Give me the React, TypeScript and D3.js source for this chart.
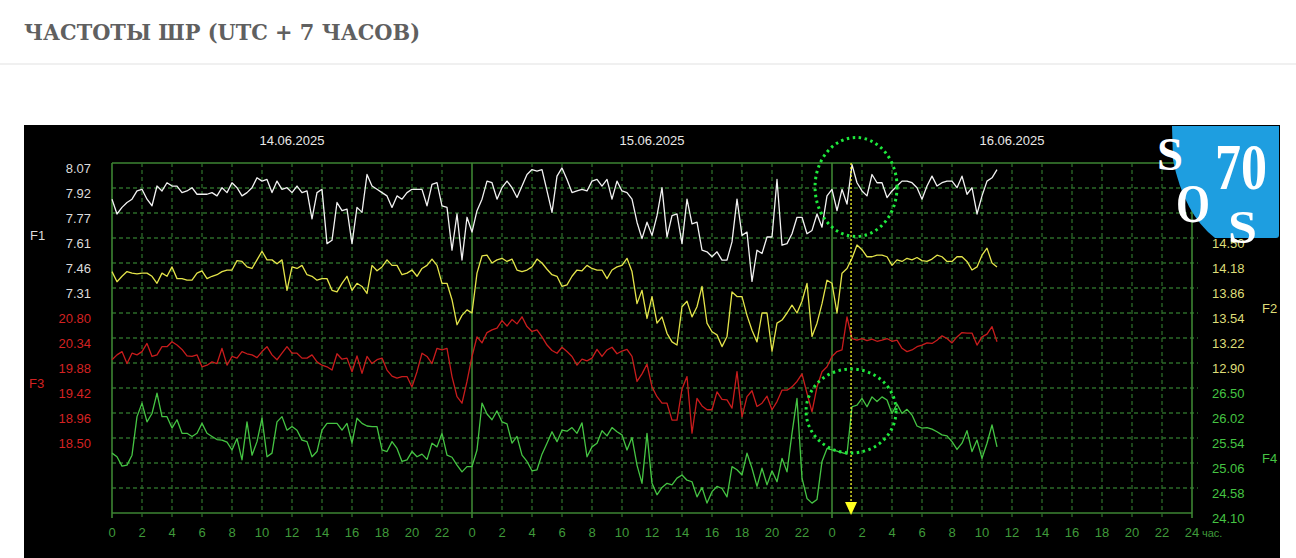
import React from "react";
import * as d3 from "d3";

// ---------- data ----------
const TITLE = "ЧАСТОТЫ ШР (UTC + 7 ЧАСОВ)";
const DATES = ["14.06.2025", "15.06.2025", "16.06.2025"];
const HOUR_TICKS = [0, 2, 4, 6, 8, 10, 12, 14, 16, 18, 20, 22];
const HOUR_UNIT = "час.";
const STEP_HOURS = 1 / 3;

const F1_TICKS = ["8.07", "7.92", "7.77", "7.61", "7.46", "7.31"];
const F2_TICKS = ["14.50", "14.18", "13.86", "13.54", "13.22", "12.90"];
const F3_TICKS = ["20.80", "20.34", "19.88", "19.42", "18.96", "18.50"];
const F4_TICKS = ["26.50", "26.02", "25.54", "25.06", "24.58", "24.10"];

const F1_D1 = [7.85, 7.76, 7.80, 7.83, 7.85, 7.90, 7.91, 7.85, 7.81, 7.93,
  7.90, 7.95, 7.93, 7.93, 7.89, 7.90, 7.92, 7.88, 7.88, 7.88,
  7.89, 7.87, 7.92, 7.89, 7.95, 7.92, 7.87, 7.89, 7.92, 7.98,
  7.96, 7.97, 7.89, 7.96, 7.91, 7.92, 7.89, 7.93, 7.89, 7.90,
  7.73, 7.89, 7.91, 7.58, 7.60, 7.83, 7.78, 7.79, 7.58, 7.80,
  7.77, 8.00, 7.93, 7.91, 7.89, 7.87, 7.80, 7.87, 7.85, 7.89,
  7.91, 7.91, 7.91, 7.81, 7.94, 7.95, 7.81, 7.80, 7.54, 7.76,
  7.48, 7.74];
const F1_D2 = [7.65, 7.78, 7.85, 7.96, 7.95, 7.85, 7.92, 7.96, 7.92, 7.86,
  7.93, 8.00, 8.03, 8.02, 8.03, 7.90, 7.77, 7.99, 8.04, 7.97,
  7.89, 7.90, 7.91, 7.90, 7.96, 7.97, 7.93, 7.97, 7.85, 7.96,
  7.90, 7.89, 7.85, 7.71, 7.61, 7.71, 7.63, 7.75, 7.92, 7.62,
  7.75, 7.76, 7.58, 7.85, 7.70, 7.71, 7.54, 7.53, 7.50, 7.53,
  7.48, 7.48, 7.59, 7.85, 7.63, 7.65, 7.35, 7.54, 7.52, 7.62,
  7.62, 7.97, 7.57, 7.58, 7.64, 7.74, 7.74, 7.64, 7.66, 7.76,
  7.68, 7.87];
const F1_D3 = [7.91, 7.78, 7.91, 7.82, 8.06, 7.95, 7.90, 7.87, 8.00, 7.95,
  7.95, 7.86, 7.90, 7.93, 7.96, 7.96, 7.95, 7.92, 7.85, 7.93,
  7.99, 7.93, 7.95, 7.96, 7.96, 7.92, 7.99, 7.88, 7.92, 7.76,
  7.87, 7.96, 7.98, 8.03];

const F2_D1 = [14.07, 13.94, 14.01, 14.07, 14.05, 14.04, 14.05, 14.05, 14.01, 13.92,
  14.05, 14.01, 14.13, 13.98, 13.98, 13.96, 13.96, 14.05, 14.08, 13.98,
  14.01, 14.03, 14.07, 14.09, 14.09, 14.21, 14.20, 14.13, 14.11, 14.22,
  14.33, 14.22, 14.22, 14.17, 14.22, 13.83, 14.13, 14.11, 14.15, 14.03,
  14.01, 13.96, 13.98, 13.98, 13.83, 13.81, 13.92, 14.01, 13.83, 13.92,
  13.88, 13.79, 14.15, 14.08, 14.13, 14.22, 14.15, 14.15, 14.03, 14.05,
  14.09, 14.01, 14.11, 14.15, 14.23, 14.15, 13.92, 13.92, 13.71, 13.39,
  13.51, 13.58];
const F2_D2 = [13.54, 14.05, 14.27, 14.28, 14.18, 14.22, 14.24, 14.20, 14.23, 14.09,
  14.07, 14.09, 14.13, 14.23, 14.18, 14.10, 14.03, 14.01, 13.88, 13.90,
  14.01, 14.09, 14.08, 14.15, 14.11, 14.09, 14.09, 13.98, 14.09, 14.13,
  14.15, 14.24, 14.07, 13.66, 13.83, 13.47, 13.75, 13.41, 13.49, 13.28,
  13.17, 13.13, 13.62, 13.69, 13.49, 13.62, 13.88, 13.41, 13.30, 13.26,
  13.11, 13.24, 13.81, 13.75, 13.75, 13.51, 13.32, 13.17, 13.54, 13.54,
  13.05, 13.41, 13.45, 13.54, 13.64, 13.54, 13.69, 13.92, 13.24, 13.41,
  13.66, 13.96];
const F2_D3 = [13.92, 13.54, 14.05, 14.11, 14.24, 14.41, 14.35, 14.26, 14.26, 14.28,
  14.28, 14.26, 14.15, 14.22, 14.20, 14.24, 14.22, 14.25, 14.21, 14.20,
  14.23, 14.28, 14.26, 14.20, 14.20, 14.26, 14.26, 14.20, 14.09, 14.13,
  14.28, 14.37, 14.18, 14.13];

const F3_D1 = [19.94, 20.03, 20.09, 19.87, 20.06, 20.03, 20.09, 20.24, 20.00, 20.03,
  20.18, 20.18, 20.27, 20.21, 20.13, 20.01, 20.00, 20.03, 19.81, 19.84,
  19.90, 19.87, 20.15, 19.84, 20.00, 19.97, 20.09, 20.05, 20.03, 19.98,
  20.09, 20.18, 20.03, 19.94, 20.06, 20.18, 20.06, 20.06, 19.97, 19.97,
  20.03, 19.90, 19.84, 19.81, 19.75, 20.05, 19.95, 19.97, 19.72, 20.01,
  19.69, 20.00, 19.87, 19.94, 19.97, 19.75, 19.64, 19.60, 19.63, 19.63,
  19.44, 19.72, 20.06, 20.00, 19.87, 20.15, 20.12, 20.15, 19.63, 19.26,
  19.14, 19.54];
const F3_D2 = [20.00, 20.36, 20.25, 20.44, 20.49, 20.52, 20.66, 20.56, 20.68, 20.60,
  20.73, 20.55, 20.46, 20.49, 20.36, 20.21, 20.11, 20.06, 20.17, 20.09,
  20.00, 19.84, 19.95, 19.92, 19.97, 20.13, 20.00, 20.12, 20.17, 20.05,
  20.10, 20.13, 20.00, 19.54, 19.68, 19.86, 19.44, 19.26, 19.14, 19.14,
  18.83, 18.83, 19.40, 19.63, 18.59, 19.23, 19.09, 19.02, 19.02, 19.35,
  19.21, 19.20, 19.05, 19.72, 18.89, 19.26, 19.37, 19.08, 19.14, 19.27,
  19.02, 19.17, 19.38, 19.38, 19.44, 19.54, 19.68, 19.32, 18.98, 19.44,
  19.72, 19.81];
const F3_D3 = [20.00, 20.09, 20.12, 20.73, 20.33, 20.30, 20.33, 20.29, 20.32, 20.28,
  20.30, 20.33, 20.28, 20.30, 20.15, 20.09, 20.12, 20.18, 20.21, 20.25,
  20.24, 20.30, 20.38, 20.33, 20.25, 20.36, 20.44, 20.43, 20.43, 20.21,
  20.36, 20.41, 20.55, 20.27];

const F4_D1 = [25.25, 25.18, 25.00, 25.02, 25.21, 25.95, 26.21, 25.85, 26.01, 26.40,
  25.95, 25.95, 25.73, 25.89, 25.63, 25.63, 25.57, 25.63, 25.82, 25.63,
  25.57, 25.51, 25.50, 25.46, 25.31, 25.53, 25.12, 25.85, 25.21, 25.47,
  25.92, 25.18, 25.25, 25.85, 25.95, 25.69, 25.76, 25.69, 25.50, 25.47,
  25.18, 25.28, 25.69, 25.82, 25.82, 25.82, 25.69, 25.82, 25.44, 25.92,
  25.82, 25.77, 25.76, 25.76, 25.31, 25.28, 25.47, 25.34, 25.09, 25.12,
  25.28, 25.18, 25.23, 25.13, 25.44, 25.37, 25.63, 25.21, 25.17, 25.02,
  24.89, 24.99];
const F4_D2 = [24.99, 25.31, 26.21, 26.00, 25.89, 26.06, 25.85, 25.81, 25.44, 25.57,
  25.21, 25.09, 24.91, 24.93, 25.23, 25.44, 25.66, 25.47, 25.69, 25.67,
  25.74, 25.63, 25.83, 25.18, 25.37, 25.44, 25.68, 25.58, 25.74, 25.66,
  25.60, 25.31, 25.55, 25.02, 24.67, 25.63, 24.67, 24.45, 24.59, 24.67,
  24.64, 24.77, 24.83, 24.73, 24.70, 24.41, 24.59, 24.29, 24.51, 24.61,
  24.57, 24.41, 24.99, 24.93, 24.83, 25.25, 24.96, 24.61, 24.96, 24.64,
  24.91, 24.70, 25.15, 24.89, 25.63, 26.30, 24.77, 24.38, 24.29, 24.36,
  25.09, 25.34];
const F4_D3 = [25.31, 25.29, 25.26, 25.23, 26.14, 26.17, 26.30, 26.14, 26.33, 26.24,
  26.33, 26.27, 26.01, 26.19, 26.01, 26.09, 25.98, 25.77, 25.73, 25.74,
  25.71, 25.66, 25.60, 25.58, 25.47, 25.32, 25.44, 25.68, 25.28, 25.50,
  25.15, 25.44, 25.79, 25.37];

// annotation: marked moment (hours from start of first day)
const MARK_HOUR = 49.27;

// ---------- layout ----------
const W = 1296;
const H = 558;
const PL = 112, PR = 1192, PT = 163, ROW = 25, NROWS = 14;
const PB = PT + ROW * NROWS;
const rowY = (i: number) => PT + ROW * i;

const x = d3.scaleLinear().domain([0, 72]).range([PL, PR]);
const yF1 = d3.scaleLinear().domain([8.07, 7.31]).range([rowY(0), rowY(5)]);
const yF2 = d3.scaleLinear().domain([14.5, 12.9]).range([rowY(3), rowY(8)]);
const yF3 = d3.scaleLinear().domain([20.8, 18.5]).range([rowY(6), rowY(11)]);
const yF4 = d3.scaleLinear().domain([26.5, 24.1]).range([rowY(9), rowY(14)]);

const GRID_DASH = "#2b6a28";
const FRAME = "#3d8533";
const TICK_GREEN = "#3f9a3a";
const FONT = "'Liberation Sans', Arial, sans-serif";

const SERIES = [
  { name: "F1", values: [...F1_D1, ...F1_D2, ...F1_D3], y: yF1, color: "#f2f2f2" },
  { name: "F2", values: [...F2_D1, ...F2_D2, ...F2_D3], y: yF2, color: "#e4e44a" },
  { name: "F3", values: [...F3_D1, ...F3_D2, ...F3_D3], y: yF3, color: "#c81c1c" },
  { name: "F4", values: [...F4_D1, ...F4_D2, ...F4_D3], y: yF4, color: "#45c443" },
];

export default function App() {
  const vLines: JSX.Element[] = [];
  for (let t = 0; t <= 72; t += 2) {
    const solid = t % 24 === 0;
    vLines.push(
      <line key={"v" + t} x1={x(t)} x2={x(t)} y1={PT} y2={PB + 5}
        stroke={solid ? FRAME : GRID_DASH} strokeWidth={solid ? 1.6 : 1.3}
        strokeDasharray={solid ? undefined : "4,3"} />
    );
  }
  const hLines: JSX.Element[] = [];
  for (let i = 0; i <= NROWS; i++) {
    const solid = i === 0 || i === NROWS;
    hLines.push(
      <line key={"h" + i} x1={PL} x2={solid ? PR : PR + 6} y1={rowY(i)} y2={rowY(i)}
        stroke={solid ? FRAME : GRID_DASH} strokeWidth={solid ? 1.6 : 1.3}
        strokeDasharray={solid ? undefined : "4,3"} />
    );
  }

  const tickLabels: JSX.Element[] = [];
  DATES.forEach((_, d) => {
    HOUR_TICKS.forEach((h) => {
      tickLabels.push(
        <text key={`t${d}-${h}`} x={x(24 * d + h)} y={537} textAnchor="middle"
          fill={TICK_GREEN} fontSize={13} fontFamily={FONT}>{h}</text>
      );
    });
  });
  tickLabels.push(
    <text key="t24" x={x(72)} y={537} textAnchor="middle" fill={TICK_GREEN} fontSize={13} fontFamily={FONT}>24</text>
  );
  tickLabels.push(
    <text key="unit" x={x(72) + 10} y={537} fill={TICK_GREEN} fontSize={11} fontFamily={FONT}>{HOUR_UNIT}</text>
  );

  const line = (s: typeof SERIES[number]) =>
    d3.line<number>().x((_, i) => x(i * STEP_HOURS)).y((v) => s.y(v))(s.values) || "";

  const mx = x(MARK_HOUR);

  return (
    <svg width={W} height={H} style={{ position: "absolute", left: 0, top: 0, background: "#fff" }}>
      <rect x={0} y={0} width={W} height={H} fill="#fff" />
      <text x={24} y={40} fontFamily="'DejaVu Serif', 'Liberation Serif', serif" fontWeight="bold"
        fontSize={22.5} fill="#606060" textLength={396} lengthAdjust="spacingAndGlyphs">{TITLE}</text>
      <line x1={0} x2={W} y1={64} y2={64} stroke="#ebebeb" strokeWidth={1.5} />

      <rect x={24} y={125} width={1256} height={H - 125} fill="#000" />

      {DATES.map((d, i) => (
        <text key={d} x={x(24 * i + 12)} y={145} textAnchor="middle" fill="#e8e8e8"
          fontSize={13} fontFamily={FONT}>{d}</text>
      ))}

      {hLines}
      {vLines}

      {F1_TICKS.map((t, i) => (
        <text key={"a" + t} x={91} y={rowY(i) + 10} textAnchor="end" fill="#dcdcdc" fontSize={13} fontFamily={FONT}>{t}</text>
      ))}
      {F3_TICKS.map((t, i) => (
        <text key={"c" + t} x={91} y={rowY(i + 6) + 10} textAnchor="end" fill="#d42222" fontSize={13} fontFamily={FONT}>{t}</text>
      ))}
      {F2_TICKS.map((t, i) => (
        <text key={"b" + t} x={1212} y={rowY(i + 3) + 10} fill="#dede78" fontSize={13} fontFamily={FONT}>{t}</text>
      ))}
      {F4_TICKS.map((t, i) => (
        <text key={"d" + t} x={1212} y={rowY(i + 9) + 10} fill="#45c443" fontSize={13} fontFamily={FONT}>{t}</text>
      ))}
      <text x={30} y={240} fill="#dcdcdc" fontSize={13} fontFamily={FONT}>F1</text>
      <text x={29} y={388} fill="#d42222" fontSize={13} fontFamily={FONT}>F3</text>
      <text x={1262} y={313} fill="#dede78" fontSize={13} fontFamily={FONT}>F2</text>
      <text x={1262} y={463} fill="#45c443" fontSize={13} fontFamily={FONT}>F4</text>

      {tickLabels}

      {SERIES.map((s) => (
        <path key={s.name} d={line(s)} fill="none" stroke={s.color} strokeWidth={1.3} strokeLinejoin="round" />
      ))}

      {/* annotations */}
      <line x1={mx} x2={mx} y1={PT} y2={PB - 10} stroke="#ffff30" strokeWidth={1.3} strokeDasharray="2,2" />
      <path d={`M${mx - 6},${PB - 11} L${mx + 6},${PB - 11} L${mx},${PB + 2} Z`} fill="#ffff20" />
      <ellipse cx={mx + 5} cy={187} rx={41} ry={49.5} fill="none" stroke="#1ee83c" strokeWidth={3}
        strokeDasharray="2.5,3.5" />
      <ellipse cx={mx} cy={411} rx={45} ry={42} fill="none" stroke="#1ee83c" strokeWidth={3}
        strokeDasharray="2.5,3.5" />

      {/* logo */}
      <path d="M1172,126 L1279,126 L1279,235 Q1279,238 1276,238 L1215,238 Q1184,214 1173,160 Z" fill="#1e9ee0" />
      <g fontFamily="'Liberation Serif', 'DejaVu Serif', serif" fontWeight="bold" fill="#ffffff">
        <text x={1157} y={170} fontSize={46} textLength={26} lengthAdjust="spacingAndGlyphs">S</text>
        <text x={1215} y={189} fontSize={66} textLength={52} lengthAdjust="spacingAndGlyphs">70</text>
        <text x={1176} y={222} fontSize={54} textLength={34} lengthAdjust="spacingAndGlyphs">O</text>
        <text x={1228} y={243} fontSize={46} textLength={29} lengthAdjust="spacingAndGlyphs">S</text>
      </g>
    </svg>
  );
}
